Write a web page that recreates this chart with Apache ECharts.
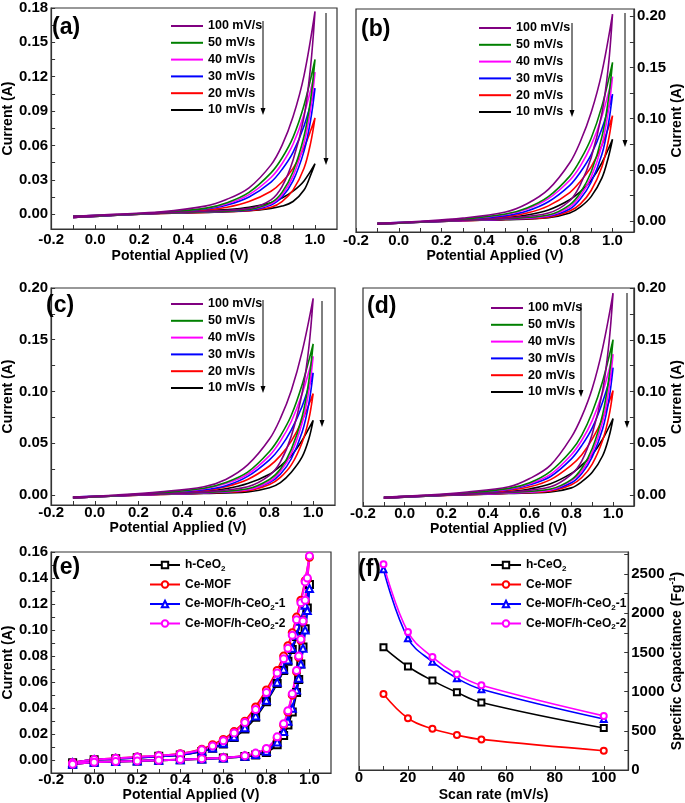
<!DOCTYPE html>
<html><head><meta charset="utf-8">
<script src="https://cdn.jsdelivr.net/npm/echarts@6/dist/echarts.min.js"></script>
<style>html,body{margin:0;padding:0;background:#fff}#c{width:685px;height:803px}</style>
</head><body><div id="c"></div>
<script>
// ---------- data ----------
const rateNames = ['100 mV/s','50 mV/s','40 mV/s','30 mV/s','20 mV/s','10 mV/s'];
const outerX = [-0.1, 0.1, 0.3, 0.5, 0.6, 0.7, 0.8, 0.85, 0.9, 0.95, 1.0];
const innerX = [0.98, 0.95, 0.9, 0.85, 0.8, 0.7, 0.5, 0.3, 0.1, -0.1];

const aOuter = [
  [-0.002, 0.000, 0.002, 0.007, 0.013, 0.023, 0.043, 0.060, 0.085, 0.121, 0.177],
  [-0.002, -0.0005, 0.0015, 0.005, 0.010, 0.019, 0.036, 0.049, 0.067, 0.095, 0.135],
  [-0.002, -0.0005, 0.0015, 0.005, 0.009, 0.017, 0.032, 0.044, 0.061, 0.087, 0.124],
  [-0.002, -0.0005, 0.001, 0.0045, 0.008, 0.015, 0.028, 0.039, 0.054, 0.077, 0.110],
  [-0.002, -0.001, 0.001, 0.0035, 0.006, 0.011, 0.020, 0.028, 0.040, 0.058, 0.084],
  [-0.002, -0.001, 0.0008, 0.003, 0.004, 0.006, 0.010, 0.014, 0.020, 0.029, 0.044]
];
const aInner = [
  [0.129, 0.085, 0.047, 0.024, 0.0125, 0.005, 0.0025, 0.001, -0.0005, -0.003],
  [0.100, 0.068, 0.037, 0.019, 0.010, 0.004, 0.002, 0.0008, -0.0008, -0.003],
  [0.092, 0.062, 0.033, 0.017, 0.009, 0.004, 0.002, 0.0008, -0.0008, -0.003],
  [0.082, 0.055, 0.029, 0.015, 0.008, 0.0035, 0.0018, 0.0007, -0.001, -0.003],
  [0.062, 0.040, 0.021, 0.011, 0.006, 0.003, 0.0015, 0.0005, -0.001, -0.003],
  [0.034, 0.021, 0.011, 0.007, 0.005, 0.003, 0.0015, 0.0005, -0.001, -0.003]
];
const bOuter = [
  [-0.002, 0.000, 0.003, 0.009, 0.017, 0.031, 0.057, 0.078, 0.106, 0.145, 0.202],
  [-0.002, -0.0005, 0.002, 0.007, 0.013, 0.024, 0.044, 0.060, 0.081, 0.112, 0.155],
  [-0.002, -0.0005, 0.002, 0.0065, 0.012, 0.022, 0.040, 0.054, 0.074, 0.102, 0.141],
  [-0.002, -0.0005, 0.0015, 0.0055, 0.010, 0.019, 0.035, 0.048, 0.065, 0.090, 0.124],
  [-0.002, -0.001, 0.001, 0.0045, 0.008, 0.015, 0.028, 0.039, 0.053, 0.074, 0.103],
  [-0.002, -0.001, 0.001, 0.0035, 0.006, 0.011, 0.021, 0.029, 0.040, 0.057, 0.080]
];
const bInner = [
  [0.150, 0.105, 0.062, 0.036, 0.020, 0.008, 0.003, 0.001, -0.0005, -0.003],
  [0.118, 0.082, 0.048, 0.028, 0.016, 0.006, 0.0025, 0.001, -0.0008, -0.003],
  [0.107, 0.074, 0.043, 0.025, 0.014, 0.0055, 0.0022, 0.0008, -0.0008, -0.003],
  [0.094, 0.065, 0.038, 0.022, 0.012, 0.005, 0.002, 0.0007, -0.001, -0.003],
  [0.078, 0.053, 0.030, 0.017, 0.010, 0.004, 0.0018, 0.0005, -0.001, -0.003],
  [0.062, 0.042, 0.024, 0.014, 0.008, 0.0035, 0.0015, 0.0005, -0.001, -0.003]
];
const cOuter = [
  [-0.002, 0.000, 0.003, 0.008, 0.015, 0.029, 0.054, 0.074, 0.101, 0.139, 0.190],
  [-0.002, -0.0005, 0.002, 0.0065, 0.012, 0.022, 0.042, 0.057, 0.077, 0.107, 0.146],
  [-0.002, -0.0005, 0.002, 0.006, 0.011, 0.020, 0.038, 0.052, 0.071, 0.098, 0.134],
  [-0.002, -0.0005, 0.0015, 0.005, 0.009, 0.018, 0.034, 0.046, 0.063, 0.086, 0.118],
  [-0.002, -0.001, 0.001, 0.004, 0.008, 0.015, 0.028, 0.038, 0.052, 0.072, 0.098],
  [-0.002, -0.001, 0.001, 0.0035, 0.006, 0.011, 0.020, 0.028, 0.038, 0.053, 0.072]
];
const cInner = [
  [0.142, 0.099, 0.057, 0.032, 0.019, 0.008, 0.003, 0.001, -0.0005, -0.003],
  [0.110, 0.076, 0.044, 0.025, 0.015, 0.006, 0.0025, 0.001, -0.0008, -0.003],
  [0.100, 0.070, 0.040, 0.023, 0.013, 0.005, 0.0022, 0.0008, -0.0008, -0.003],
  [0.088, 0.061, 0.035, 0.020, 0.012, 0.005, 0.002, 0.0007, -0.001, -0.003],
  [0.073, 0.051, 0.029, 0.017, 0.010, 0.004, 0.0018, 0.0005, -0.001, -0.003],
  [0.054, 0.037, 0.022, 0.012, 0.007, 0.003, 0.0015, 0.0005, -0.001, -0.003]
];
const dOuter = [
  [-0.002, 0.000, 0.003, 0.008, 0.016, 0.029, 0.056, 0.076, 0.103, 0.142, 0.195],
  [-0.002, -0.0005, 0.002, 0.0065, 0.012, 0.023, 0.043, 0.058, 0.080, 0.110, 0.150],
  [-0.002, -0.0005, 0.002, 0.006, 0.011, 0.020, 0.039, 0.053, 0.072, 0.099, 0.136],
  [-0.002, -0.0005, 0.0015, 0.0055, 0.010, 0.018, 0.035, 0.048, 0.065, 0.090, 0.123],
  [-0.002, -0.001, 0.001, 0.0045, 0.008, 0.015, 0.029, 0.039, 0.054, 0.074, 0.101],
  [-0.002, -0.001, 0.001, 0.0035, 0.006, 0.011, 0.021, 0.029, 0.039, 0.054, 0.074]
];
const dInner = [
  [0.146, 0.101, 0.059, 0.033, 0.020, 0.008, 0.003, 0.001, -0.0005, -0.003],
  [0.113, 0.078, 0.045, 0.026, 0.015, 0.006, 0.0025, 0.001, -0.0008, -0.003],
  [0.102, 0.071, 0.041, 0.023, 0.014, 0.005, 0.0022, 0.0008, -0.0008, -0.003],
  [0.092, 0.064, 0.037, 0.021, 0.012, 0.005, 0.002, 0.0007, -0.001, -0.003],
  [0.076, 0.053, 0.030, 0.017, 0.010, 0.004, 0.0018, 0.0005, -0.001, -0.003],
  [0.056, 0.038, 0.022, 0.013, 0.007, 0.003, 0.0015, 0.0005, -0.001, -0.003]
];

// panel (e)
const sampleNames = ['h-CeO2', 'Ce-MOF', 'Ce-MOF/h-CeO2-1', 'Ce-MOF/h-CeO2-2'];
const eOuterX = [-0.1, 0.0, 0.1, 0.2, 0.3, 0.4, 0.5, 0.55, 0.6, 0.65, 0.7, 0.75, 0.8, 0.85, 0.88, 0.9, 0.92, 0.94, 0.96, 0.98, 1.0];
const eInnerX = [0.99, 0.98, 0.97, 0.96, 0.95, 0.94, 0.92, 0.9, 0.88, 0.85, 0.8, 0.75, 0.7, 0.6, 0.5, 0.4, 0.3, 0.2, 0.1, 0.0, -0.1];
const eOuter = [
  [-0.002, 0.0003, 0.0012, 0.002, 0.003, 0.004, 0.0068, 0.0092, 0.0125, 0.0175, 0.024, 0.033, 0.045, 0.059, 0.069, 0.076, 0.085, 0.095, 0.107, 0.120, 0.135],
  [-0.002, 0.0005, 0.0015, 0.0025, 0.0035, 0.005, 0.0085, 0.012, 0.016, 0.022, 0.030, 0.041, 0.054, 0.069, 0.080, 0.088, 0.098, 0.110, 0.123, 0.138, 0.156],
  [-0.002, 0.0003, 0.0012, 0.002, 0.003, 0.004, 0.007, 0.0095, 0.013, 0.018, 0.025, 0.034, 0.046, 0.060, 0.070, 0.077, 0.086, 0.096, 0.107, 0.119, 0.132],
  [-0.002, 0.0005, 0.0015, 0.0025, 0.0035, 0.0048, 0.008, 0.011, 0.015, 0.021, 0.029, 0.039, 0.052, 0.067, 0.078, 0.086, 0.096, 0.108, 0.121, 0.137, 0.157]
];
const eInner = [
  [0.117, 0.101, 0.087, 0.074, 0.062, 0.052, 0.037, 0.027, 0.019, 0.012, 0.006, 0.004, 0.0028, 0.0017, 0.001, 0.0004, 0.0, -0.0005, -0.001, -0.0015, -0.003],
  [0.139, 0.122, 0.106, 0.092, 0.079, 0.068, 0.050, 0.037, 0.027, 0.017, 0.0085, 0.005, 0.0033, 0.002, 0.0012, 0.0005, 0.0, -0.0005, -0.001, -0.0015, -0.003],
  [0.115, 0.100, 0.086, 0.074, 0.063, 0.054, 0.040, 0.030, 0.022, 0.014, 0.007, 0.0045, 0.003, 0.0018, 0.001, 0.0004, 0.0, -0.0005, -0.001, -0.0015, -0.003],
  [0.140, 0.123, 0.107, 0.093, 0.080, 0.069, 0.051, 0.038, 0.028, 0.018, 0.009, 0.0055, 0.0035, 0.002, 0.0012, 0.0005, 0.0, -0.0005, -0.001, -0.0015, -0.003]
];

// panel (f)
const scanRates = [10, 20, 30, 40, 50, 100];
const capHCeO2 = [1565, 1320, 1140, 990, 860, 535];
const capCeMOF = [970, 660, 525, 445, 390, 245];
const capComp1 = [2560, 1680, 1380, 1170, 1030, 650];
const capComp2 = [2625, 1760, 1440, 1220, 1080, 690];

// tick labels
const cvXLabels = [-0.2, 0.0, 0.2, 0.4, 0.6, 0.8, 1.0];
const cvXTicks = [-0.2, -0.1, 0.0, 0.1, 0.2, 0.3, 0.4, 0.5, 0.6, 0.7, 0.8, 0.9, 1.0];
const aYLabels = [0.00, 0.03, 0.06, 0.09, 0.12, 0.15, 0.18];
const aYTicks = [0, 0.015, 0.03, 0.045, 0.06, 0.075, 0.09, 0.105, 0.12, 0.135, 0.15, 0.165, 0.18];
const bcdYLabels = [0.00, 0.05, 0.10, 0.15, 0.20];
const bcdYTicks = [0, 0.025, 0.05, 0.075, 0.1, 0.125, 0.15, 0.175, 0.2];
const eYLabels = [0.00, 0.02, 0.04, 0.06, 0.08, 0.10, 0.12, 0.14, 0.16];
const eYTicks = [0, 0.01, 0.02, 0.03, 0.04, 0.05, 0.06, 0.07, 0.08, 0.09, 0.10, 0.11, 0.12, 0.13, 0.14, 0.15, 0.16];
const fXLabels = [0, 20, 40, 60, 80, 100];
const fXTicks = [0, 10, 20, 30, 40, 50, 60, 70, 80, 90, 100];
const fYLabels = [0, 500, 1000, 1500, 2000, 2500];
const fYTicks = [0, 250, 500, 750, 1000, 1250, 1500, 1750, 2000, 2250, 2500, 2750];

// ---------- styling ----------
const FF = 'Arial, "Liberation Sans", Helvetica, sans-serif';
const rateColors = ['#800080', '#008000', '#ff00ff', '#0000ff', '#ff0000', '#000000'];
const sampleColors = ['#000000', '#ff0000', '#0000ff', '#ff00ff'];
const sampleSymbols = ['emptyRect', 'emptyCircle', 'emptyTriangle', 'emptyCircle'];
const AX = '#333';

const grids = [
  {left: 49, top: 8, width: 288, height: 221},
  {left: 356, top: 9, width: 281, height: 223},
  {left: 44, top: 288, width: 291, height: 217},
  {left: 363, top: 288, width: 276, height: 218},
  {left: 46, top: 552, width: 285, height: 221},
  {left: 359, top: 552, width: 276, height: 218}
].map(g => Object.assign({show: true, borderColor: AX, borderWidth: 1.2, backgroundColor: 'transparent'}, g));

const f1 = v => v.toFixed(1), f2 = v => v.toFixed(2), f0 = v => String(Math.round(v));

function xAx(gi, min, max, labels, ticks, fmt, name, nameGap, margin, namePad) {
  return {
    type: 'value', gridIndex: gi, min, max, position: 'bottom',
    name, nameLocation: 'middle', nameGap,
    nameTextStyle: {fontFamily: FF, fontSize: 14, fontWeight: 'bold', color: '#000', padding: namePad || 0},
    axisLine: {show: true, onZero: false, lineStyle: {color: AX, width: 1.2}},
    axisTick: {show: true, inside: true, length: 4, customValues: ticks, lineStyle: {color: AX}},
    axisLabel: {customValues: labels, formatter: fmt, margin, fontFamily: FF, fontSize: 15, fontWeight: 'bold', color: '#000'},
    splitLine: {show: false}
  };
}
function yAx(gi, min, max, labels, ticks, fmt, name, nameGap, margin, pos, rich) {
  return {
    type: 'value', gridIndex: gi, min, max, position: pos,
    name, nameLocation: 'middle', nameGap, nameRotate: 90,
    nameTextStyle: {fontFamily: FF, fontSize: 14, fontWeight: 'bold', color: '#000', rich: rich || {}},
    axisLine: {show: true, onZero: false, lineStyle: {color: AX, width: 1.2}},
    axisTick: {show: true, inside: true, length: 4, customValues: ticks, lineStyle: {color: AX}},
    axisLabel: {customValues: labels, formatter: fmt, margin, fontFamily: FF, fontSize: 15, fontWeight: 'bold', color: '#000'},
    splitLine: {show: false}
  };
}

const PA = 'Potential Applied (V)', CUR = 'Current (A)';
const xAxes = [
  xAx(0, -0.2, 1.1, cvXLabels, cvXTicks, f1, PA, 20, 3, [0, 28, 0, 0]),
  xAx(1, -0.2, 1.1, cvXLabels, cvXTicks, f1, PA, 17, 1),
  xAx(2, -0.2, 1.1, cvXLabels, cvXTicks, f1, PA, 15, 0, [0, 30, 0, 0]),
  xAx(3, -0.2, 1.1, cvXLabels, cvXTicks, f1, PA, 15, 0),
  xAx(4, -0.2, 1.1, cvXLabels, cvXTicks, f1, PA, 15, -1),
  xAx(5, 0, 110, fXLabels, fXTicks, f0, 'Scan rate (mV/s)', 18, 0)
];
const yAxes = [
  yAx(0, -0.013, 0.18, aYLabels, aYTicks, f2, CUR, 35, 3, 'left'),
  yAx(1, -0.0105, 0.207, bcdYLabels, bcdYTicks, f2, CUR, 29, 3, 'right'),
  yAx(2, -0.0097, 0.20, bcdYLabels, bcdYTicks, f2, CUR, 29, 3, 'left'),
  yAx(3, -0.0105, 0.20, bcdYLabels, bcdYTicks, f2, CUR, 27, 3, 'right'),
  yAx(4, -0.0098, 0.16, eYLabels, eYTicks, f2, CUR, 31, 3, 'left'),
  yAx(5, 0, 2780, fYLabels, fYTicks, f0, 'Specific Capacitance (Fg{sup|-1})', 38, 3, 'right',
      {sup: {fontSize: 9, fontWeight: 'bold', fontFamily: FF, color: '#000', padding: [0, 0, 8, 0]}})
];

const series = [];
function cvSeries(idx, outer, inner) {
  for (let k = 5; k >= 0; k--) {
    series.push({
      type: 'line', name: rateNames[k], xAxisIndex: idx, yAxisIndex: idx,
      symbol: 'none', smooth: 0.35, animation: false,
      lineStyle: {color: rateColors[k], width: 1.6}, itemStyle: {color: rateColors[k]},
      data: outerX.map((x, j) => [x, outer[k][j]]).concat(innerX.map((x, j) => [x, inner[k][j]]))
    });
  }
}
cvSeries(0, aOuter, aInner);
cvSeries(1, bOuter, bInner);
cvSeries(2, cOuter, cInner);
cvSeries(3, dOuter, dInner);
for (let k = 0; k < 4; k++) {
  series.push({
    type: 'line', name: sampleNames[k], xAxisIndex: 4, yAxisIndex: 4,
    symbol: sampleSymbols[k], symbolSize: 7, smooth: 0.3, animation: false,
    lineStyle: {color: sampleColors[k], width: 2}, itemStyle: {color: sampleColors[k], borderWidth: 1},
    data: eOuterX.map((x, j) => [x, eOuter[k][j]]).concat(eInnerX.map((x, j) => [x, eInner[k][j]]))
  });
}
const capSets = [capHCeO2, capCeMOF, capComp1, capComp2];
for (let k = 0; k < 4; k++) {
  series.push({
    type: 'line', name: sampleNames[k], xAxisIndex: 5, yAxisIndex: 5,
    symbol: sampleSymbols[k], symbolSize: 6, smooth: 0.4, animation: false,
    lineStyle: {color: sampleColors[k], width: 1.6}, itemStyle: {color: sampleColors[k], borderWidth: 1},
    data: scanRates.map((x, j) => [x, capSets[k][j]])
  });
}

function cvLegend(left, top) {
  return {orient: 'vertical', left, top, itemWidth: 32, itemHeight: 2, itemGap: 2.8, icon: 'rect',
    selectedMode: false, data: rateNames,
    textStyle: {fontFamily: FF, fontSize: 12.5, fontWeight: 'bold', color: '#000', lineHeight: 14}};
}
const subRich = {s: {fontSize: 8, fontWeight: 'bold', fontFamily: FF, color: '#000', padding: [7, 0, 0, 0]}};
function smpLegend(left, top) {
  return {orient: 'vertical', left, top, itemWidth: 30, itemHeight: 8, itemGap: 3.5,
    selectedMode: false, data: sampleNames,
    formatter: n => n.replace(/CeO2/g, 'CeO{s|2}'),
    textStyle: {fontFamily: FF, fontSize: 12, fontWeight: 'bold', color: '#000', lineHeight: 16, rich: subRich}};
}
const legends = [cvLegend(166, 14), cvLegend(474, 16), cvLegend(166, 292), cvLegend(486, 296),
                 smpLegend(144, 552), smpLegend(485, 552)];

const letters = [['(a)', 52, 28], ['(b)', 361, 29.5], ['(c)', 46, 305.5], ['(d)', 367, 307], ['(e)', 52, 568], ['(f)', 358, 570]];
const arrows = [[263, 21, 115], [326, 13, 165], [572, 23, 117], [625, 13, 147],
                [263, 300, 393], [322, 301, 427], [581, 303, 397], [627, 293, 428]];
const graphic = [];
letters.forEach(([t, x, y]) => graphic.push({type: 'text', x, y, z: 10,
  style: {text: t, fill: '#000', font: 'bold 23px ' + FF, verticalAlign: 'middle', textVerticalAlign: 'middle'}}));
arrows.forEach(([x, y1, y2]) => {
  graphic.push({type: 'line', z: 10, shape: {x1: x, y1: y1, x2: x, y2: y2 - 4}, style: {stroke: '#000', lineWidth: 1}});
  graphic.push({type: 'polygon', z: 10, shape: {points: [[x - 2.5, y2 - 7], [x + 2.5, y2 - 7], [x, y2]]}, style: {fill: '#000'}});
});

const chart = echarts.init(document.getElementById('c'), null, {renderer: 'canvas'});
chart.setOption({
  animation: false, backgroundColor: '#fff',
  grid: grids, xAxis: xAxes, yAxis: yAxes, series, legend: legends, graphic
});
</script></body></html>
